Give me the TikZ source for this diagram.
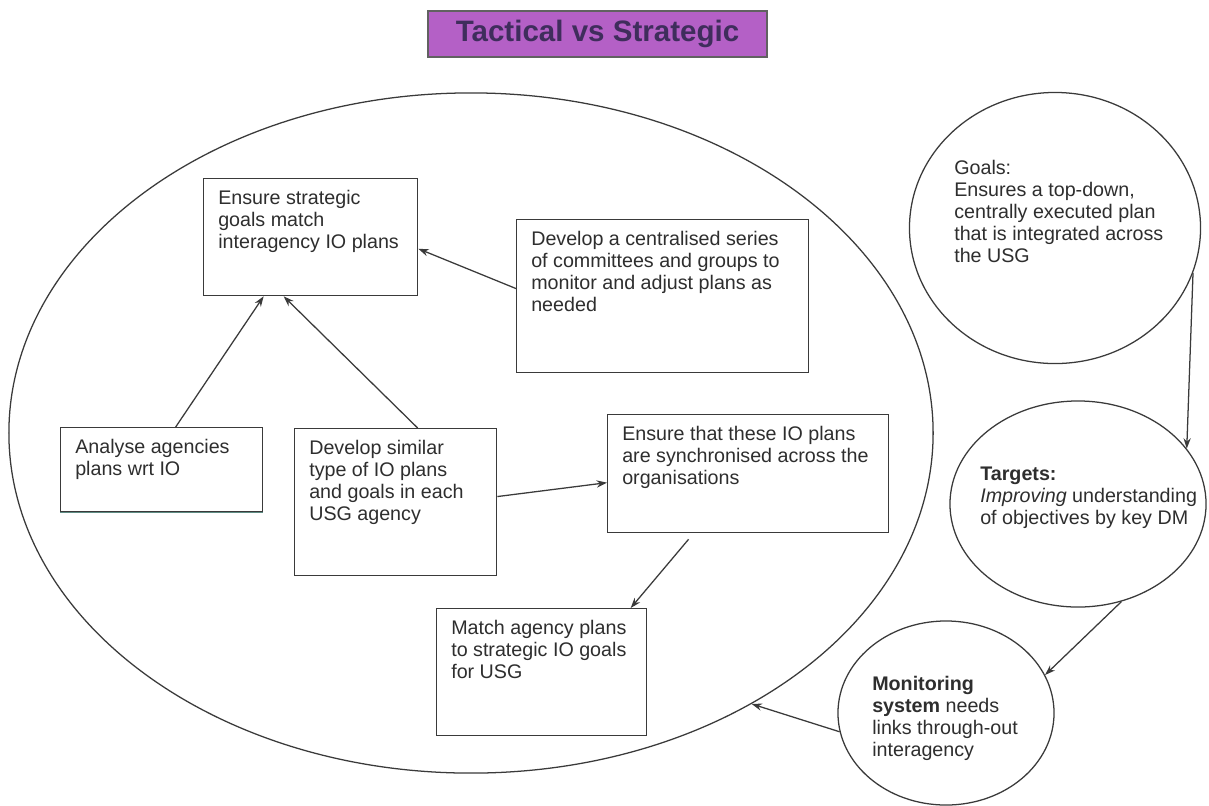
\documentclass[tikz,border=0pt]{standalone}
\usepackage{fontspec}
\setmainfont{Liberation Sans}
\usetikzlibrary{
  positioning,
  shapes.geometric,
  arrows.meta,
  calc,
}
\definecolor{border}{HTML}{3A3A3A}
\definecolor{textMain}{HTML}{2E2E2E}
\definecolor{titleFill}{HTML}{B460C6}
\definecolor{titleText}{HTML}{3F2D5C}
\definecolor{edgeTeal}{HTML}{5E8C84}
\newcommand{\boxfont}{\fontsize{14}{15.6}\selectfont}
\tikzset{
  planbox/.style={
    rectangle, draw=border, line width=0.9pt, anchor=north west, inner sep=0pt,
  },
  boxtext/.style={
    anchor=north west, align=left, font=\boxfont, text=textMain,
    inner xsep=0.375cm, inner ysep=0.3cm,
  },
  roundnode/.style={ellipse, draw=border, line width=0.9pt, inner sep=0pt},
  roundtext/.style={
    anchor=north west, align=left, font=\boxfont, text=textMain, inner sep=0pt,
  },
  titlebox/.style={
    rectangle, draw=border!80, fill=titleFill, line width=0.8pt,
    minimum width=8.475cm, minimum height=1.15cm,
    font=\fontsize{21}{24}\selectfont\bfseries, text=titleText,
  },
  arrow/.style={-{Stealth[length=0.26cm, width=0.18cm]}, border, line width=0.9pt},
}

\begin{document}
\begin{tikzpicture}[x=0.025cm, y=-0.025cm]

  \fill[white] (0, 0) rectangle (1209, 805);
  \useasboundingbox (0, 0) rectangle (1209, 805);

  \node[titlebox] (title) at (597.5, 34) {Tactical vs Strategic};

  % Tactical field
  \node[roundnode, minimum width=23.1cm, minimum height=17cm] (field) at (471, 433) {};

  \node[planbox, minimum width=5.35cm, minimum height=2.925cm,
    label={[boxtext]north west:{Ensure strategic\\goals match\\interagency IO plans}}] (strat) at (203, 178) {};
  \node[planbox, minimum width=7.3cm, minimum height=3.825cm,
    label={[boxtext]north west:{Develop a centralised series\\of committees and groups to\\monitor and adjust plans as\\needed}}] (central) at (516, 219) {};
  \node[planbox, minimum width=5.05cm, minimum height=2.1cm,
    label={[boxtext]north west:{Analyse agencies\\plans wrt IO}}] (analyse) at (60, 427) {};
  \node[planbox, minimum width=5.05cm, minimum height=3.675cm,
    label={[boxtext]north west:{Develop similar\\type of IO plans\\and goals in each\\USG agency}}] (similar) at (294, 428) {};
  \node[planbox, minimum width=7.025cm, minimum height=2.95cm,
    label={[boxtext]north west:{Ensure that these IO plans\\are synchronised across the\\organisations}}] (sync) at (607, 414) {};
  \node[planbox, minimum width=5.25cm, minimum height=3.175cm,
    label={[boxtext]north west:{Match agency plans\\to strategic IO goals\\for USG}}] (match) at (436, 608) {};

  \draw[edgeTeal, line width=0.9pt] (analyse.south west) -- (analyse.south east);

  \draw[arrow] ([xshift=0.35cm]analyse.north) -- ([xshift=-1.175cm]strat.south);
  \draw[arrow] ([xshift=0.55cm]similar.north) -- ([xshift=-0.675cm]strat.south);
  \draw[arrow] ([yshift=0.19cm]central.west) -- ([yshift=-0.29cm]strat.east);
  \draw[arrow] ([yshift=0.14cm]similar.east) -- ([yshift=-0.225cm]sync.west);
  \draw[arrow] ([xshift=-1.49cm, yshift=-0.15cm]sync.south) -- ([xshift=2.225cm]match.north);

  % Strategic chain
  \node[roundnode, minimum width=7.275cm, minimum height=6.775cm] (goals) at (1055, 228) {};
  \node[roundtext] (goalstxt) at (954, 160)
    {Goals:\\Ensures a top-down,\\centrally executed plan\\that is integrated across\\the USG};

  \node[roundnode, minimum width=6.4cm, minimum height=5.15cm] (targets) at (1078, 504) {};
  \node[roundtext] (targetstxt) at (980, 467)
    {\textbf{Targets:}\\\textit{Improving} understanding\\of objectives by key DM};

  \node[roundnode, minimum width=5.4cm, minimum height=4.6cm] (monitor) at (946, 713) {};
  \node[roundtext] (monitortxt) at (872, 676)
    {\textbf{Monitoring}\\\textbf{system} needs\\links through-out\\interagency};

  \draw[arrow] (goals.-18) -- (targets.27);
  \draw[arrow] (targets.-66) -- (monitor.21);
  \draw[arrow] (monitor.190) -- (field.-44);

\end{tikzpicture}
\end{document}
